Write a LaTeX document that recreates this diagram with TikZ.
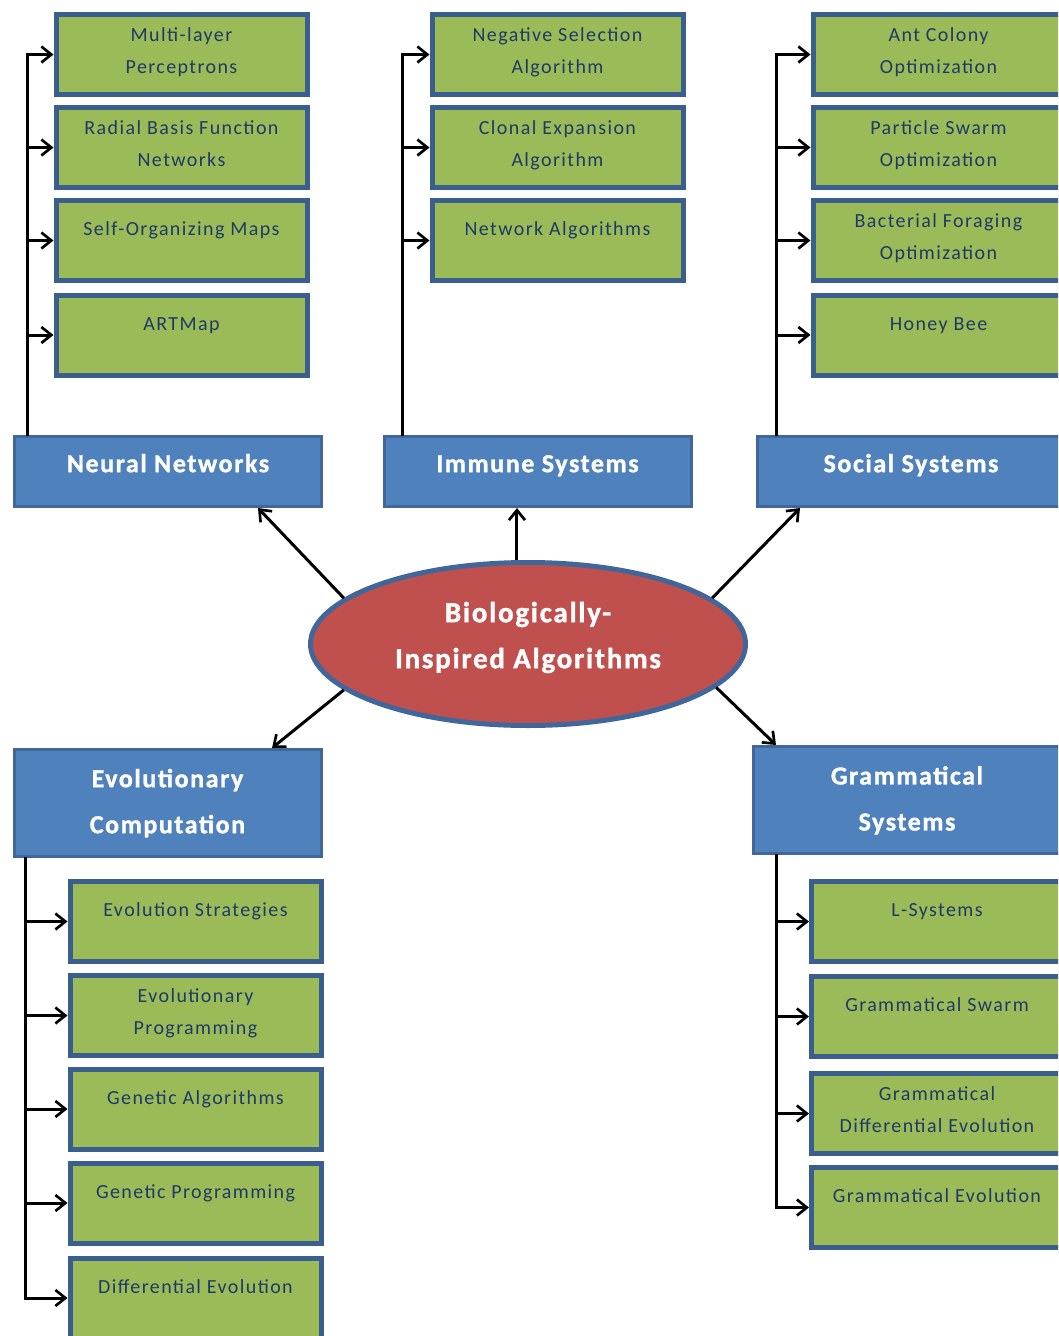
\documentclass[tikz,border=0pt]{standalone}
\usepackage{fontspec}
\setmainfont{Carlito}
\newfontfamily\leaffont{Carlito}[LetterSpace=7]
\newfontfamily\headfont{Carlito}[LetterSpace=6,FakeBold=1.2]
\newfontfamily\hubfont{Carlito}[LetterSpace=6,FakeBold=1.2]
\usetikzlibrary{arrows.meta,shapes.geometric}
\definecolor{leaf}{HTML}{9BBB59}
\definecolor{rim}{HTML}{3A5F8E}
\definecolor{sky}{HTML}{4F81BD}
\definecolor{skyrim}{HTML}{41679A}
\definecolor{brick}{HTML}{C0504D}
\definecolor{ink}{HTML}{1F3A66}
\begin{document}
\begin{tikzpicture}[x=0.75pt,y=-0.75pt,
  leafbox/.style={draw=rim,line width=3.75pt,fill=leaf,minimum width=188.25pt,minimum height=60pt,inner sep=0pt},
  headbox/.style={draw=skyrim,line width=2.25pt,fill=sky,minimum width=230.25pt,minimum height=52.5pt,inner sep=0pt},
  tallhead/.style={headbox,minimum height=80.25pt},
  leaftext/.style={text=ink,font=\leaffont\fontsize{15}{24}\selectfont,align=center,inner sep=0pt},
  onel/.style={leaftext,yshift=-23.5pt},
  twol/.style={leaftext,yshift=-29.5pt},
  headtext/.style={text=white,font=\headfont\bfseries\fontsize{19.5}{34.5}\selectfont,align=center,inner sep=0pt},
  hubtext/.style={text=white,font=\hubfont\bfseries\fontsize{21.75}{34.5}\selectfont,align=center,inner sep=0pt},
  link/.style={draw=black,line width=2.25pt,-{Straight Barb[length=7.5pt,width=12pt,line width=2pt]}}
]
\useasboundingbox (0,0) rectangle (1058,1336);
\clip (0,0) rectangle (1058,1336);

% central hub
\node[ellipse,draw=skyrim,line width=3.75pt,fill=brick,minimum width=326.25pt,minimum height=122.25pt,inner sep=0pt] (bia) at (528,644) {};
\node[hubtext,yshift=6pt] (biat) at (bia.center) {\strut Biologically-\\\strut Inspired Algorithms};

% category boxes
\node[headbox] (nn) at (168,471.5) {};
\node[headtext,yshift=6.4pt] at (nn.center) {\strut Neural Networks};
\node[headbox] (im) at (537.5,471.5) {};
\node[headtext,yshift=6.4pt] at (im.center) {\strut Immune Systems};
\node[headbox] (so) at (911,471.5) {};
\node[headtext,yshift=6.4pt] at (so.center) {\strut Social Systems};
\node[tallhead] (ec) at (167.5,803) {};
\node[headtext,yshift=1.5pt] at (ec.center) {\strut Evolutionary\\\strut Computation};
\node[tallhead] (gs) at (907,800) {};
\node[headtext,yshift=1.3pt] at (gs.center) {\strut Grammatical\\\strut Systems};

% neural network methods
\node[leafbox] (mlp) at (181.5,54.5) {};
\node[twol] at (mlp.north) {\strut Multi-layer\\\strut Perceptrons};
\node[leafbox] (rbf) at (181.5,147.5) {};
\node[twol] at (rbf.north) {\strut Radial Basis Function\\\strut Networks};
\node[leafbox] (som) at (181.5,240.5) {};
\node[onel] at (som.north) {\strut Self-Organizing Maps};
\node[leafbox] (art) at (181.5,335) {};
\node[onel] at (art.north) {\strut ARTMap};

% immune methods
\node[leafbox] (nsa) at (557.5,54.5) {};
\node[twol] at (nsa.north) {\strut Negative Selection\\\strut Algorithm};
\node[leafbox] (cea) at (557.5,147.5) {};
\node[twol] at (cea.north) {\strut Clonal Expansion\\\strut Algorithm};
\node[leafbox] (nwa) at (557.5,240.5) {};
\node[onel] at (nwa.north) {\strut Network Algorithms};

% social methods
\node[leafbox] (aco) at (938.5,54.5) {};
\node[twol] at (aco.north) {\strut Ant Colony\\\strut Optimization};
\node[leafbox] (pso) at (938.5,147.5) {};
\node[twol] at (pso.north) {\strut Particle Swarm\\\strut Optimization};
\node[leafbox] (bfo) at (938.5,240.5) {};
\node[twol] at (bfo.north) {\strut Bacterial Foraging\\\strut Optimization};
\node[leafbox] (hb) at (938.5,335) {};
\node[onel] at (hb.north) {\strut Honey Bee};

% evolutionary methods
\node[leafbox] (es) at (195.5,921.5) {};
\node[onel] at (es.north) {\strut Evolution Strategies};
\node[leafbox] (ep) at (195.5,1015.5) {};
\node[twol] at (ep.north) {\strut Evolutionary\\\strut Programming};
\node[leafbox] (ga) at (195.5,1109) {};
\node[onel] at (ga.north) {\strut Genetic Algorithms};
\node[leafbox] (gp) at (195.5,1203) {};
\node[onel] at (gp.north) {\strut Genetic Programming};
\node[leafbox] (de) at (195.5,1298) {};
\node[onel] at (de.north) {\strut Differential Evolution};

% grammatical methods
\node[leafbox] (ls) at (937,921.5) {};
\node[onel] at (ls.north) {\strut L-Systems};
\node[leafbox] (gsw) at (937,1016.5) {};
\node[onel] at (gsw.north) {\strut Grammatical Swarm};
\node[leafbox] (gde) at (937,1113.5) {};
\node[twol] at (gde.north) {\strut Grammatical\\\strut Differential Evolution};
\node[leafbox] (ge) at (937,1207.5) {};
\node[onel] at (ge.north) {\strut Grammatical Evolution};

% trunk start points
\coordinate (nnT) at (27,436);
\coordinate (imT) at (402,436);
\coordinate (soT) at (776,436);
\coordinate (ecT) at (25,857);
\coordinate (gsT) at (776,854);

% branches
\foreach \b in {mlp,rbf,som,art} \draw[link] (nnT) |- (\b.west);
\foreach \b in {nsa,cea,nwa} \draw[link] (imT) |- (\b.west);
\foreach \b in {aco,pso,bfo,hb} \draw[link] (soT) |- (\b.west);
\foreach \b in {es,ep,ga,gp,de} \draw[link] (ecT) |- (\b.west);
\foreach \b in {ls,gsw,gde,ge} \draw[link] (gsT) |- (\b.west);

% hub to categories
\coordinate (imIn) at ([xshift=-15.4pt]im.south);
\draw[link] (bia.166) -- ([xshift=67.5pt]nn.south);
\draw[link] (imIn |- bia.north) -- (imIn);
\draw[link] (bia.14) -- ([xshift=-83.25pt]so.south);
\draw[link] (bia.194) -- ([xshift=78.4pt]ec.north);
\draw[link] (bia.347) -- ([xshift=-98.25pt]gs.north);
\end{tikzpicture}
\end{document}
